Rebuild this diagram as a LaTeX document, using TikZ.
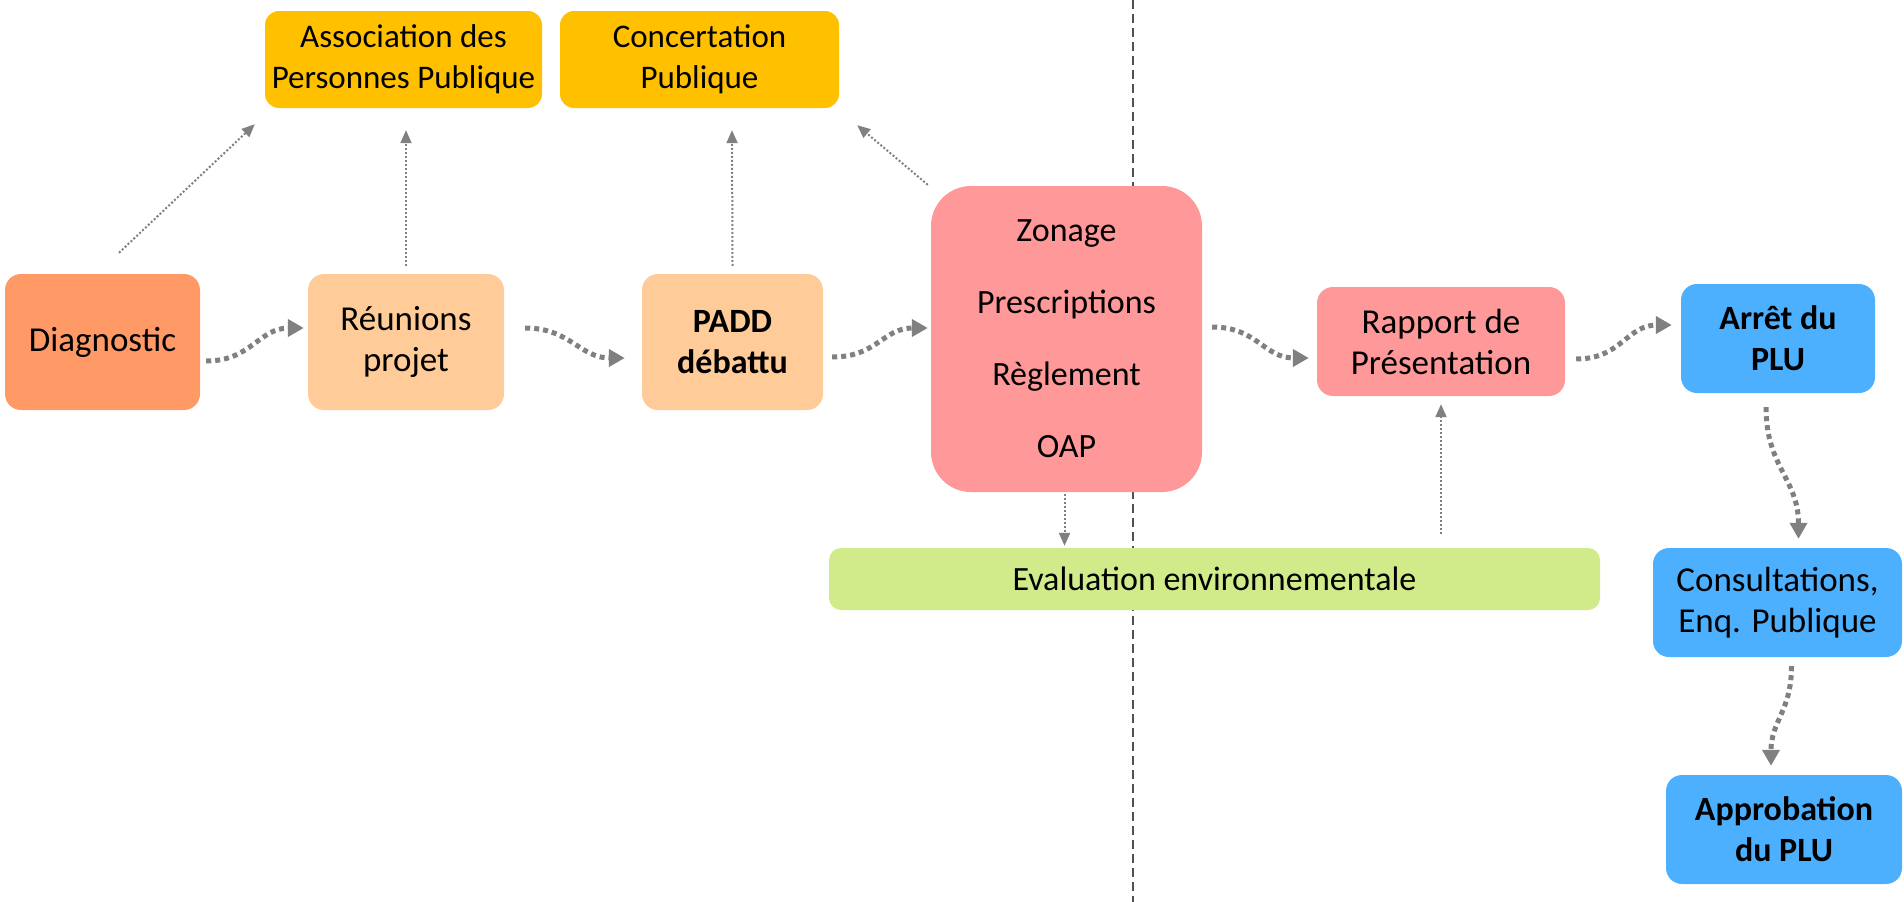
\documentclass[tikz,border=0pt]{standalone}
\usepackage{fontspec}
\setmainfont{Carlito}
\usetikzlibrary{arrows.meta}
\definecolor{cdiag}{RGB}{255,153,102}
\definecolor{cpeach}{RGB}{255,204,153}
\definecolor{cgold}{RGB}{255,192,0}
\definecolor{cpink}{RGB}{255,153,153}
\definecolor{cblue}{RGB}{77,176,255}
\definecolor{cgreen}{RGB}{209,235,139}
\definecolor{carrow}{RGB}{128,128,128}
\definecolor{cline}{RGB}{80,80,80}
\begin{document}
\begin{tikzpicture}[x=1pt,y=-1pt,
  box/.style={rounded corners=16pt, inner sep=0pt, align=center, font=\fontsize{35}{41}\selectfont, text=black},
  boldbox/.style={box, font=\fontsize{34}{41}\selectfont\bfseries},
  wave/.style={carrow, line width=5pt, dash pattern=on 5pt off 4pt, -{Triangle[length=16pt,width=17pt]}},
  thinarrow/.style={carrow, line width=2pt, dash pattern=on 2pt off 2pt, -{Triangle[length=13pt,width=11pt]}},
]
\useasboundingbox (0,0) rectangle (1904,902);

\coordinate (vtop) at (1133,0);
\coordinate (vbot) at (1133,902);
\draw[cline, line width=2pt, dash pattern=on 9pt off 5pt] (vtop) -- (vbot);

\node[box, fill=cdiag, minimum width=195pt, minimum height=136pt] (diag) at (102.5,342) {Diagnostic};
\node[box, fill=cpeach, minimum width=196pt, minimum height=136pt] (reun) at (406,342) {Réunions\\projet};
\node[boldbox, fill=cpeach, minimum width=181pt, minimum height=136pt] (padd) at (732.5,342) {PADD\\débattu};
\node[box, fill=cpink, rounded corners=40pt, minimum width=271pt, minimum height=306pt, font=\fontsize{34}{72}\selectfont] (main) at (1066.5,339) {Zonage\\Prescriptions\\Règlement\\OAP};
\node[box, fill=cpink, minimum width=248pt, minimum height=109pt] (rapport) at (1441,341.5) {Rapport de\\Présentation};
\node[boldbox, fill=cblue, minimum width=194pt, minimum height=109pt] (arret) at (1778,338.5) {Arrêt du\\PLU};
\node[box, fill=cblue, minimum width=249pt, minimum height=109pt] (consult) at (1777.5,602.5) {Consultations,\\Enq. Publique};
\node[boldbox, fill=cblue, minimum width=236pt, minimum height=109pt] (approb) at (1784,829.5) {Approbation\\du PLU};
\node[box, fill=cgold, rounded corners=14pt, minimum width=277pt, minimum height=97pt, font=\fontsize{33}{41}\selectfont] (assoc) at (403.5,59.5) {Association des\\Personnes Publique};
\node[box, fill=cgold, rounded corners=14pt, minimum width=279pt, minimum height=97pt, font=\fontsize{33}{41}\selectfont] (concert) at (699.5,59.5) {Concertation\\Publique};
\node[box, fill=cgreen, rounded corners=12pt, minimum width=771pt, minimum height=62pt, font=\fontsize{34}{41}\selectfont] (eval) at (1214.5,579) {Evaluation environnementale};

% thick wavy connectors
\draw[wave] ([shift={(6,19)}]diag.east) .. controls +(45,0) and +(-45,0) .. ([shift={(-4,-14)}]reun.west);
\draw[wave] ([shift={(21,-14)}]reun.east) .. controls +(45,0) and +(-45,0) .. ([shift={(-17,16)}]padd.west);
\draw[wave] ([shift={(9,15)}]padd.east) .. controls +(45,0) and +(-45,0) .. ([shift={(-3,-11)}]main.west);
\draw[wave] ([shift={(10,-12)}]main.east) .. controls +(45,0) and +(-45,0) .. ([shift={(-8,16.5)}]rapport.west);
\draw[wave] ([shift={(11,17.5)}]rapport.east) .. controls +(45,0) and +(-45,0) .. ([shift={(-9,-13.5)}]arret.west);
\draw[wave] ([shift={(-12,14)}]arret.south) .. controls +(0,60) and +(0,-60) .. ([shift={(21,-9)}]consult.north);
\draw[wave] ([shift={(14,9)}]consult.south) .. controls +(0,45) and +(0,-45) .. ([shift={(-13,-9)}]approb.north);

% thin dotted connectors
\draw[thinarrow] ([shift={(16.5,-21)}]diag.north) -- ([shift={(-10,16)}]assoc.south west);
\draw[thinarrow] ([shift={(0,-8)}]reun.north) -- ([shift={(2.5,22)}]assoc.south);
\draw[thinarrow] ([shift={(0,-8)}]padd.north) -- ([shift={(32.5,22)}]concert.south);
\draw[thinarrow] ([shift={(-3,-1)}]main.north west) -- ([shift={(18,17)}]concert.south east);
\draw[thinarrow] ([shift={(-2,2)}]main.south) -- ([shift={(-150,-2)}]eval.north);
\draw[thinarrow] ([shift={(226.5,-14)}]eval.north) -- ([shift={(0,8)}]rapport.south);
\end{tikzpicture}
\end{document}
